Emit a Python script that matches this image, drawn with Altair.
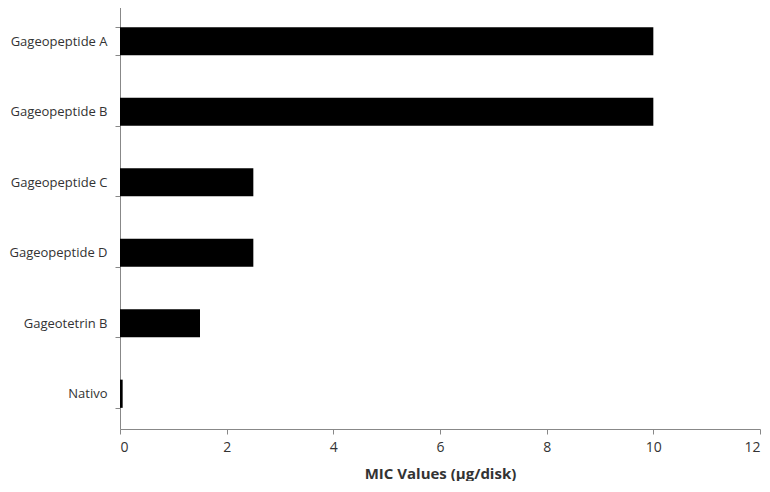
import altair as alt
import pandas as pd

compounds = ["Gageopeptide A", "Gageopeptide B", "Gageopeptide C",
             "Gageopeptide D", "Gageotetrin B", "Nativo"]
mic_values = [10, 10, 2.5, 2.5, 1.5, 0.05]

df = pd.DataFrame({"compound": compounds, "mic": mic_values})

chart = alt.Chart(df).mark_bar(color="black").encode(
    y=alt.Y("compound:N", sort=compounds, title=None,
            scale=alt.Scale(paddingInner=0.6, paddingOuter=0.3),
            axis=alt.Axis(tickBand="extent", tickSize=5, tickColor="#888888",
                          domainColor="#888888", labelFont="Open Sans",
                          labelFontSize=13, labelColor="#333333",
                          labelPadding=8)),
    x=alt.X("mic:Q", title="MIC Values (µg/disk)",
            scale=alt.Scale(domain=[0, 12], nice=False),
            axis=alt.Axis(values=[0, 2, 4, 6, 8, 10, 12], grid=False,
                          tickSize=5, tickColor="#888888",
                          domainColor="#888888", labelFont="Open Sans",
                          labelFontSize=14, labelColor="#333333",
                          labelPadding=6, titleFont="Open Sans",
                          titleFontSize=15, titleFontWeight="bold",
                          titleColor="#333333", titlePadding=12)),
).properties(width=640, height=423, padding={"left": 0, "top": -8, "right": 0, "bottom": 0}
).configure_view(stroke=None).configure_axisY(grid=False)

chart.save("out.html", embed_options={"renderer": "svg", "actions": False})
